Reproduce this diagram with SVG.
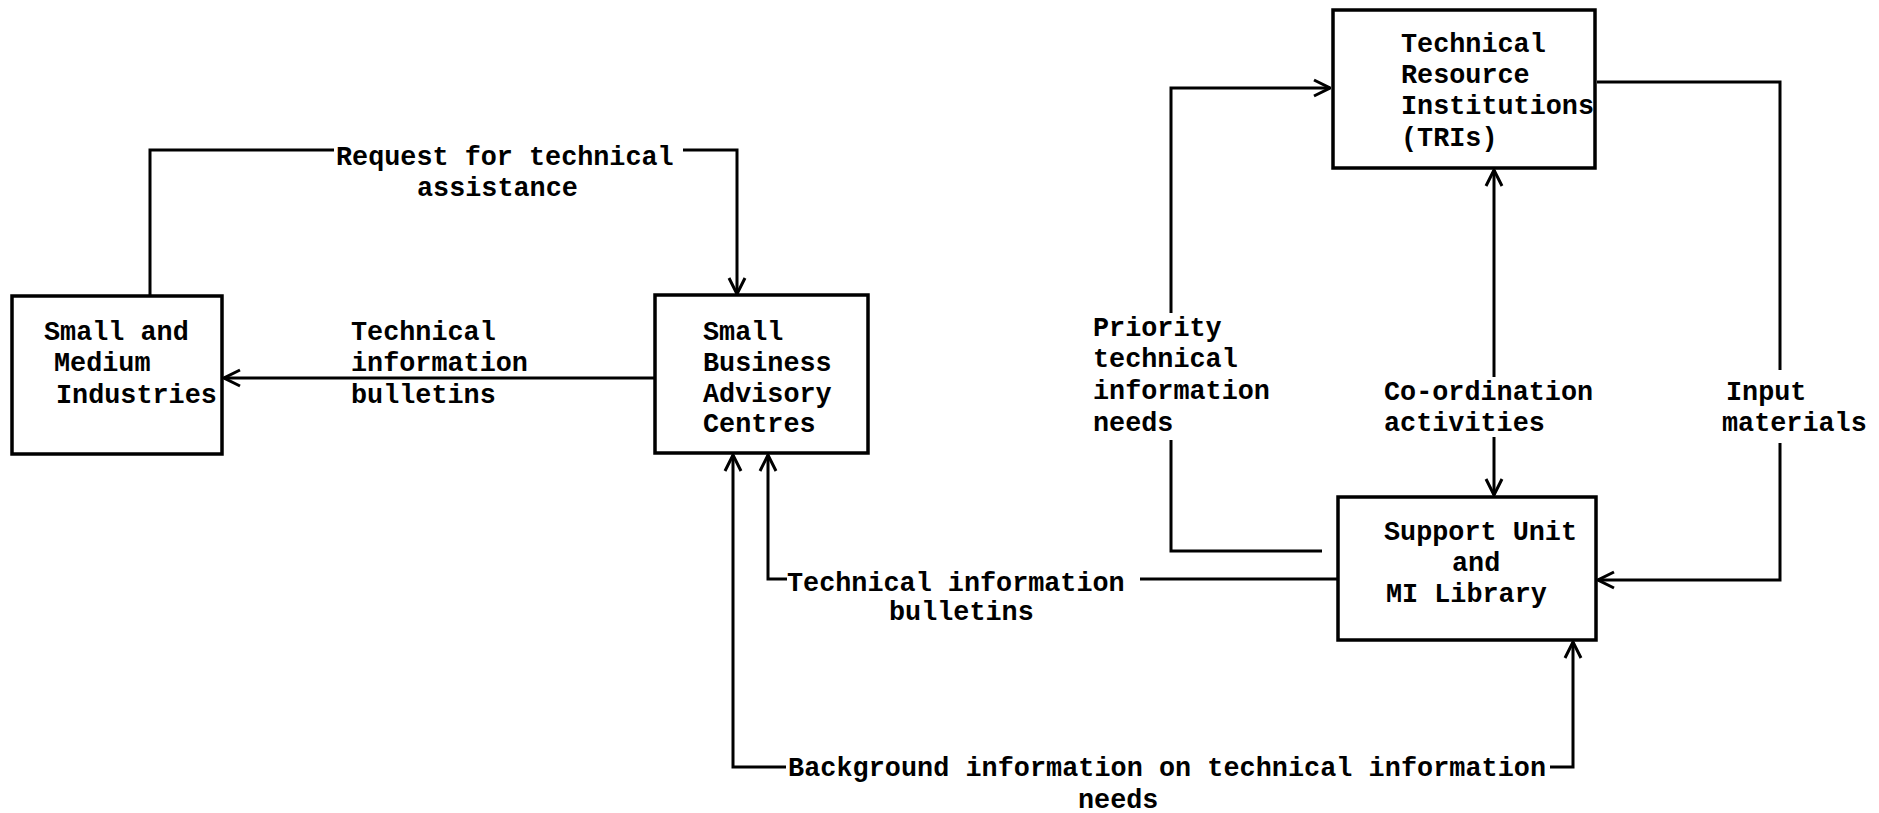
<svg xmlns="http://www.w3.org/2000/svg" width="1879" height="813" viewBox="0 0 1879 813">
<style>
.box{fill:none;stroke:#000;stroke-width:3.5}
.ln{fill:none;stroke:#000;stroke-width:3;stroke-linejoin:miter}
text{font-family:"Liberation Mono","DejaVu Sans Mono",monospace;font-weight:bold;font-size:26.8px;fill:#000}
</style>
<defs>
<marker id="ah" viewBox="0 0 20 20" refX="19" refY="10" markerWidth="20" markerHeight="20" markerUnits="userSpaceOnUse" orient="auto">
<path d="M3,2 L19,10 L3,18" fill="none" stroke="#000" stroke-width="3"/>
</marker>
</defs>
<rect width="1879" height="813" fill="#fff"/>
<g id="connectors">
<path class="ln" d="M150,296 L150,150 L334,150"/>
<path class="ln" d="M683,150 L737,150 L737,294" marker-end="url(#ah)"/>
<path class="ln" d="M655,378 L224,378" marker-end="url(#ah)"/>
<path class="ln" d="M1338,579 L1140,579"/>
<path class="ln" d="M787,579 L768,579 L768,455" marker-end="url(#ah)"/>
<path class="ln" d="M786,767 L733,767 L733,455" marker-end="url(#ah)"/>
<path class="ln" d="M1550,767 L1573,767 L1573,642" marker-end="url(#ah)"/>
<path class="ln" d="M1322,551 L1171,551 L1171,440"/>
<path class="ln" d="M1171,313 L1171,88 L1330,88" marker-end="url(#ah)"/>
<path class="ln" d="M1494,377 L1494,170" marker-end="url(#ah)"/>
<path class="ln" d="M1494,437 L1494,495" marker-end="url(#ah)"/>
<path class="ln" d="M1597,82 L1780,82 L1780,370"/>
<path class="ln" d="M1780,443 L1780,580 L1598,580" marker-end="url(#ah)"/>
<text x="336" y="165">Request for technical</text>
<text x="417" y="196">assistance</text>
<text x="351" y="340">Technical</text>
<text x="351" y="371">information</text>
<text x="351" y="403">bulletins</text>
<text x="787" y="591">Technical information</text>
<text x="889" y="620">bulletins</text>
<text x="788" y="776" textLength="758">Background information on technical information</text>
<text x="1078" y="808">needs</text>
<text x="1093" y="336">Priority</text>
<text x="1093" y="367">technical</text>
<text x="1093" y="399">information</text>
<text x="1093" y="431">needs</text>
<text x="1384" y="400">Co-ordination</text>
<text x="1384" y="431">activities</text>
<text x="1726" y="400">Input</text>
<text x="1722" y="431">materials</text>
</g>
<g id="smi">
<rect class="box" x="12" y="296" width="210" height="158"/>
<text x="44" y="340">Small and</text>
<text x="54" y="371">Medium</text>
<text x="56" y="403">Industries</text>
</g>
<g id="sbac">
<rect class="box" x="655" y="295" width="213" height="158"/>
<text x="703" y="340">Small</text>
<text x="703" y="371">Business</text>
<text x="703" y="402">Advisory</text>
<text x="703" y="432">Centres</text>
</g>
<g id="tri">
<rect class="box" x="1333" y="10" width="262" height="158"/>
<text x="1401" y="52">Technical</text>
<text x="1401" y="83">Resource</text>
<text x="1401" y="114">Institutions</text>
<text x="1401" y="146">(TRIs)</text>
</g>
<g id="support">
<rect class="box" x="1338" y="497" width="258" height="143"/>
<text x="1384" y="540">Support Unit</text>
<text x="1452" y="571">and</text>
<text x="1386" y="602">MI Library</text>
</g>
</svg>
